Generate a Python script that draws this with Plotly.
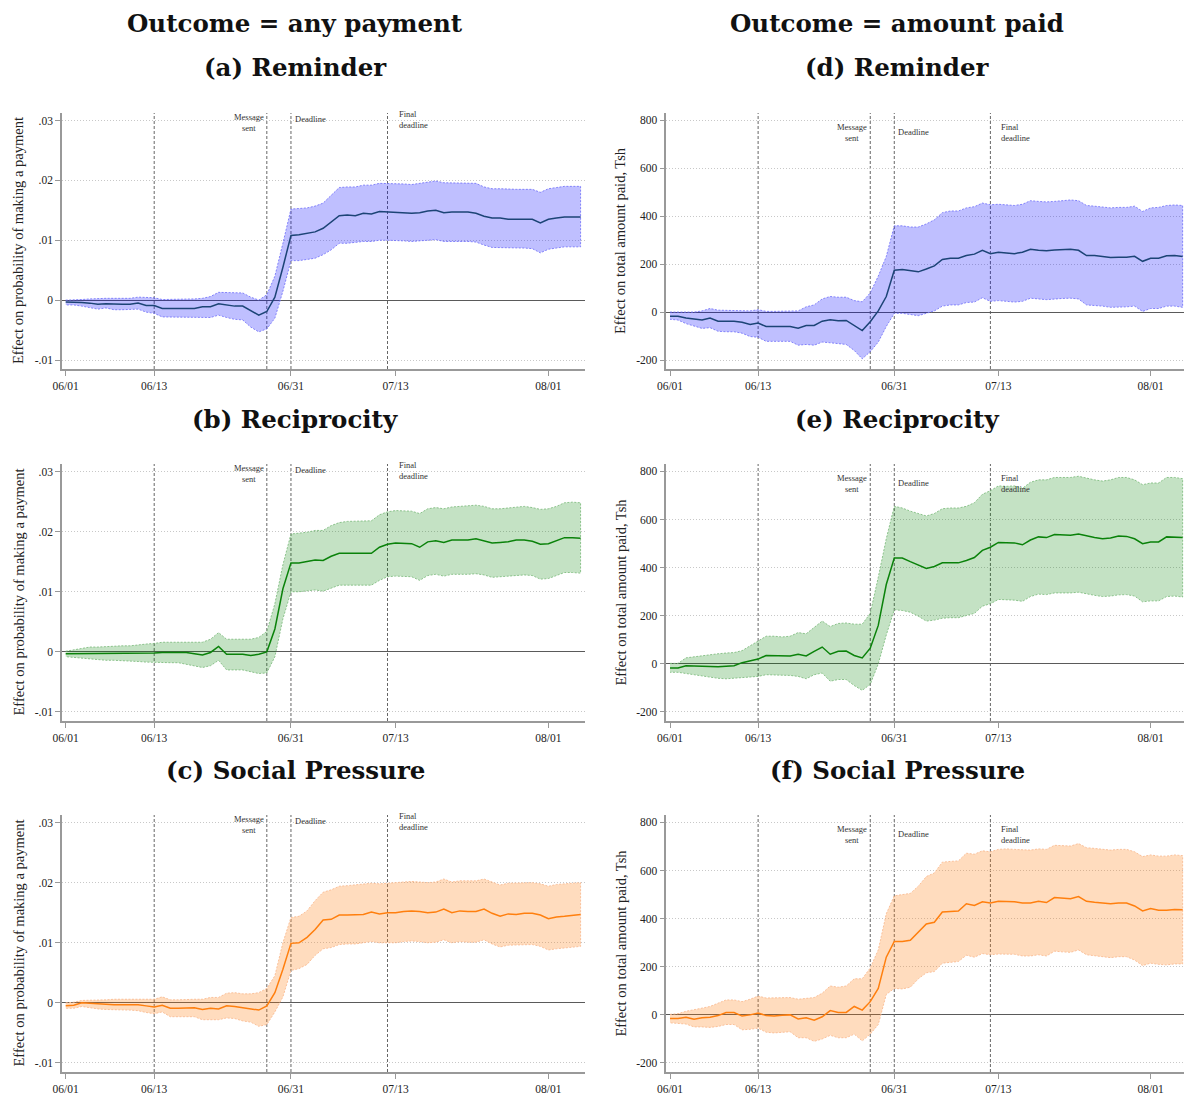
import plotly.graph_objects as go

# ---------------- data ----------------
days = list(range(65))
xtick_vals = [0, 11, 28, 41, 60]
xtick_text = ["06/01", "06/13", "06/31", "07/13", "08/01"]
vline_days = [11, 25, 28, 40]

ytick_prob = [-0.01, 0, 0.01, 0.02, 0.03]
ytick_prob_text = ["-.01", "0", ".01", ".02", ".03"]
ytick_amt = [-200, 0, 200, 400, 600, 800]
ytick_amt_text = ["-200", "0", "200", "400", "600", "800"]

col_titles = ["Outcome = any payment", "Outcome = amount paid"]
panel_titles = ["(a) Reminder", "(b) Reciprocity", "(c) Social Pressure",
                "(d) Reminder", "(e) Reciprocity", "(f) Social Pressure"]
ytitle_prob = "Effect on probability of making a payment"
ytitle_amt = "Effect on total amount paid, Tsh"

# (a) any payment, Reminder
A_mean = [-0.0003,-0.0003,-0.0004,-0.0005,-0.0007,-0.0006,-0.0007,-0.0007,-0.0007,-0.0005,
          -0.0009,-0.0009,-0.0014,-0.0014,-0.0014,-0.0013,-0.0014,-0.0011,-0.0011,-0.0006,
          -0.0008,-0.0010,-0.0010,-0.0018,-0.0025,-0.0019,0.0005,0.0055,0.0108,0.0109,
          0.0111,0.0114,0.0120,0.0130,0.0141,0.0142,0.0141,0.0145,0.0144,0.0148,
          0.0147,0.0147,0.0146,0.0145,0.0146,0.0149,0.0150,0.0146,0.0147,0.0147,
          0.0147,0.0145,0.0140,0.0137,0.0137,0.0135,0.0135,0.0135,0.0135,0.0129,
          0.0135,0.0137,0.0139,0.0139,0.0139]
A_hi = [0.0000,0.0000,0.0001,0.0002,0.0003,0.0003,0.0003,0.0003,0.0003,0.0005,
        0.0004,0.0004,0.0001,0.0001,0.0001,0.0001,0.0002,0.0003,0.0006,0.0013,
        0.0013,0.0012,0.0012,0.0005,0.0000,0.0009,0.0040,0.0095,0.0152,0.0153,
        0.0154,0.0157,0.0162,0.0175,0.0188,0.0189,0.0189,0.0192,0.0192,0.0195,
        0.0195,0.0194,0.0194,0.0193,0.0195,0.0197,0.0199,0.0196,0.0196,0.0196,
        0.0196,0.0195,0.0189,0.0186,0.0186,0.0185,0.0185,0.0185,0.0185,0.0180,
        0.0186,0.0188,0.0190,0.0190,0.0190]
A_lo = [-0.0008,-0.0008,-0.0010,-0.0012,-0.0015,-0.0013,-0.0016,-0.0016,-0.0016,-0.0015,
        -0.0020,-0.0022,-0.0028,-0.0028,-0.0028,-0.0028,-0.0029,-0.0029,-0.0029,-0.0025,
        -0.0029,-0.0032,-0.0033,-0.0045,-0.0053,-0.0048,-0.0030,0.0015,0.0066,0.0066,
        0.0068,0.0070,0.0076,0.0084,0.0095,0.0095,0.0096,0.0098,0.0098,0.0100,
        0.0100,0.0100,0.0099,0.0098,0.0098,0.0100,0.0101,0.0098,0.0098,0.0098,
        0.0098,0.0097,0.0092,0.0088,0.0088,0.0087,0.0087,0.0087,0.0086,0.0079,
        0.0085,0.0087,0.0089,0.0089,0.0089]

# (b) any payment, Reciprocity
B_mean = [-0.0003,-0.0003,-0.0003,-0.0003,-0.0003,-0.0003,-0.0003,-0.0003,-0.0003,-0.0002,
          -0.0002,-0.0002,-0.0001,-0.0001,-0.0001,-0.0001,-0.0003,-0.0005,-0.0001,0.0009,
          -0.0004,-0.0004,-0.0004,-0.0006,-0.0004,0.0000,0.0038,0.0105,0.0148,0.0148,
          0.0150,0.0153,0.0152,0.0159,0.0164,0.0164,0.0164,0.0164,0.0164,0.0174,
          0.0179,0.0181,0.0181,0.0180,0.0174,0.0183,0.0185,0.0182,0.0186,0.0186,
          0.0186,0.0188,0.0185,0.0181,0.0182,0.0183,0.0186,0.0186,0.0184,0.0179,
          0.0180,0.0185,0.0190,0.0190,0.0189]
B_hi = [0.0001,0.0003,0.0005,0.0008,0.0008,0.0009,0.0009,0.0010,0.0010,0.0012,
        0.0013,0.0014,0.0016,0.0016,0.0016,0.0016,0.0016,0.0016,0.0021,0.0032,
        0.0021,0.0021,0.0021,0.0021,0.0024,0.0034,0.0080,0.0145,0.0196,0.0197,
        0.0199,0.0202,0.0202,0.0210,0.0215,0.0217,0.0217,0.0217,0.0218,0.0228,
        0.0233,0.0235,0.0235,0.0234,0.0230,0.0238,0.0240,0.0238,0.0241,0.0242,
        0.0242,0.0244,0.0242,0.0238,0.0238,0.0239,0.0241,0.0242,0.0240,0.0237,
        0.0238,0.0242,0.0248,0.0249,0.0248]
B_lo = [-0.0008,-0.0009,-0.0010,-0.0012,-0.0013,-0.0014,-0.0014,-0.0015,-0.0015,-0.0016,
        -0.0017,-0.0017,-0.0018,-0.0018,-0.0018,-0.0020,-0.0023,-0.0026,-0.0023,-0.0014,
        -0.0030,-0.0030,-0.0030,-0.0033,-0.0036,-0.0035,-0.0008,0.0055,0.0100,0.0100,
        0.0101,0.0103,0.0101,0.0106,0.0111,0.0111,0.0111,0.0111,0.0111,0.0119,
        0.0125,0.0126,0.0126,0.0125,0.0119,0.0127,0.0129,0.0126,0.0129,0.0129,
        0.0129,0.0130,0.0128,0.0124,0.0125,0.0125,0.0127,0.0128,0.0127,0.0121,
        0.0122,0.0127,0.0132,0.0132,0.0131]

# (c) any payment, Social Pressure
C_mean = [-0.0005,-0.0004,0.0000,-0.0001,-0.0002,-0.0002,-0.0003,-0.0003,-0.0003,-0.0003,
          -0.0005,-0.0007,-0.0004,-0.0009,-0.0009,-0.0008,-0.0008,-0.0011,-0.0009,-0.0010,
          -0.0005,-0.0006,-0.0008,-0.0009,-0.0012,-0.0005,0.0017,0.0056,0.0099,0.0100,
          0.0109,0.0122,0.0138,0.0139,0.0146,0.0146,0.0146,0.0147,0.0151,0.0148,
          0.0150,0.0150,0.0152,0.0153,0.0152,0.0150,0.0151,0.0156,0.0150,0.0153,
          0.0152,0.0152,0.0156,0.0149,0.0144,0.0148,0.0147,0.0149,0.0149,0.0146,
          0.0140,0.0143,0.0144,0.0145,0.0147]
C_hi = [0.0000,0.0001,0.0004,0.0004,0.0005,0.0005,0.0006,0.0006,0.0006,0.0006,
        0.0005,0.0006,0.0010,0.0005,0.0005,0.0006,0.0006,0.0006,0.0009,0.0009,
        0.0016,0.0017,0.0015,0.0015,0.0017,0.0024,0.0045,0.0100,0.0142,0.0144,
        0.0153,0.0170,0.0184,0.0188,0.0194,0.0195,0.0196,0.0197,0.0199,0.0198,
        0.0199,0.0200,0.0202,0.0202,0.0201,0.0200,0.0201,0.0206,0.0201,0.0203,
        0.0203,0.0203,0.0206,0.0201,0.0196,0.0199,0.0199,0.0200,0.0200,0.0198,
        0.0194,0.0197,0.0198,0.0199,0.0200]
C_lo = [-0.0009,-0.0009,-0.0006,-0.0008,-0.0010,-0.0011,-0.0012,-0.0012,-0.0012,-0.0013,
        -0.0016,-0.0018,-0.0015,-0.0023,-0.0024,-0.0023,-0.0023,-0.0028,-0.0028,-0.0028,
        -0.0025,-0.0026,-0.0030,-0.0032,-0.0039,-0.0036,-0.0015,0.0010,0.0054,0.0057,
        0.0064,0.0079,0.0090,0.0092,0.0097,0.0098,0.0098,0.0100,0.0102,0.0100,
        0.0100,0.0100,0.0102,0.0103,0.0102,0.0100,0.0101,0.0105,0.0100,0.0102,
        0.0101,0.0101,0.0105,0.0098,0.0093,0.0096,0.0096,0.0097,0.0097,0.0094,
        0.0088,0.0090,0.0091,0.0093,0.0094]

# (d) amount paid, Reminder
D_mean = [-17,-17,-25,-30,-33,-25,-38,-38,-38,-42,
          -52,-46,-60,-60,-60,-60,-67,-56,-56,-38,
          -32,-36,-35,-55,-77,-40,5,65,175,178,
          173,168,180,193,220,225,225,236,242,258,
          244,250,247,244,250,262,258,256,259,260,
          262,258,236,236,233,228,229,229,233,212,
          225,225,235,236,232]
D_hi = [0,0,0,0,5,15,8,7,7,7,
        5,10,3,3,3,3,5,22,30,55,
        65,62,62,48,43,80,150,232,360,360,
        355,355,368,385,415,422,422,435,440,455,
        448,450,448,445,450,465,462,460,462,465,
        468,465,445,442,440,435,437,437,442,420,
        435,437,445,447,445]
D_lo = [-30,-33,-48,-58,-68,-65,-80,-82,-82,-88,
        -102,-105,-122,-122,-122,-122,-138,-135,-138,-125,
        -128,-133,-135,-160,-195,-165,-125,-60,-5,-5,
        -10,-15,-5,5,25,30,30,40,42,60,
        45,48,45,42,45,58,55,52,55,57,
        58,55,30,28,25,20,22,22,25,3,
        15,15,25,25,20]

# (e) amount paid, Reciprocity
E_mean = [-17,-17,-8,-10,-10,-11,-12,-10,-8,5,
          13,20,35,35,33,33,40,33,52,70,
          40,52,53,35,25,65,160,330,440,440,
          425,410,397,405,420,420,420,430,442,472,
          485,505,503,503,495,515,528,525,538,536,
          535,540,532,525,520,523,532,530,520,500,
          507,507,528,528,525]
E_hi = [2,2,25,30,35,40,42,45,47,55,
        75,95,115,115,112,115,130,125,150,178,
        155,168,170,165,165,210,360,520,655,648,
        635,625,615,625,645,648,648,655,670,705,
        720,740,738,740,730,755,765,765,775,775,
        775,780,772,765,760,765,775,775,765,745,
        752,752,775,775,770]
E_lo = [-35,-35,-40,-48,-52,-55,-60,-62,-62,-58,
        -55,-52,-45,-45,-48,-48,-52,-62,-45,-38,
        -72,-65,-65,-90,-110,-85,0,120,225,222,
        215,198,178,182,190,192,192,200,210,240,
        250,268,268,265,260,280,290,288,295,295,
        295,298,290,285,280,282,287,288,282,258,
        262,262,280,282,278]

# (f) amount paid, Social Pressure
F_mean = [-15,-15,-10,-18,-12,-10,-3,10,10,-5,
          0,8,-3,-5,-2,0,-17,-12,-22,-8,
          18,10,10,35,20,55,110,240,305,305,
          310,345,378,385,428,430,432,462,455,470,
          465,472,472,470,465,465,472,467,488,485,
          483,492,472,468,465,462,465,465,453,432,
          442,435,435,438,437]
F_hi = [2,5,15,20,28,35,48,62,62,55,
        65,78,70,70,72,72,65,70,72,90,
        120,115,120,150,150,195,270,420,495,500,
        505,535,575,590,635,638,640,672,668,682,
        678,688,690,688,685,685,690,688,705,702,
        702,712,695,692,688,685,688,688,678,658,
        665,660,660,665,662]
F_lo = [-33,-35,-38,-50,-50,-52,-48,-40,-40,-62,
        -60,-55,-72,-75,-72,-70,-95,-95,-110,-100,
        -85,-95,-95,-80,-108,-80,-40,85,110,108,
        115,150,175,180,215,218,222,248,240,255,
        250,253,253,252,245,245,250,245,265,262,
        260,270,250,245,242,238,242,242,228,205,
        215,210,208,212,212]

# ---------------- styling ----------------
OFF = 8                      # page body margin of the html page
W, H = 1192 - OFF, 1102 - 2 * OFF
SERIF = "Liberation Serif, Times New Roman, serif"
TITLE_FONT = "DejaVu Serif, serif"

styles = {
    "blue": dict(line="rgb(28,68,118)", fill="rgba(0,0,255,0.25)", edge="rgba(120,120,250,0.9)"),
    "green": dict(line="rgb(10,130,10)", fill="rgba(0,128,0,0.23)", edge="rgba(130,190,130,0.9)"),
    "orange": dict(line="rgb(255,127,14)", fill="rgba(255,127,14,0.27)", edge="rgba(250,190,150,0.95)"),
}

def px_x(p):
    return min(max((p - OFF) / W, 0.0), 1.0)

def px_y(p):
    return min(max(1 - (p - OFF) / H, 0.0), 1.0)

left_dom = [px_x(62), px_x(584.6)]
right_dom = [px_x(666.4), px_x(1186)]
row_px = [(113, 369), (464, 721), (815, 1072)]
row_dom = [[px_y(b), px_y(t)] for (t, b) in row_px]

panels = [
    dict(mean=A_mean, lo=A_lo, hi=A_hi, style="blue", col=0, row=0, kind="prob"),
    dict(mean=D_mean, lo=D_lo, hi=D_hi, style="blue", col=1, row=0, kind="amt"),
    dict(mean=B_mean, lo=B_lo, hi=B_hi, style="green", col=0, row=1, kind="prob"),
    dict(mean=E_mean, lo=E_lo, hi=E_hi, style="green", col=1, row=1, kind="amt"),
    dict(mean=C_mean, lo=C_lo, hi=C_hi, style="orange", col=0, row=2, kind="prob"),
    dict(mean=F_mean, lo=F_lo, hi=F_hi, style="orange", col=1, row=2, kind="amt"),
]

fig = go.Figure()
layout = dict(width=W, height=H, margin=dict(l=0, r=0, t=0, b=0, pad=0, autoexpand=False),
              paper_bgcolor="white", plot_bgcolor="white", showlegend=False,
              font=dict(family=SERIF, color="#222"))
shapes = []
annotations = []

for i, p in enumerate(panels, start=1):
    xs = "x" if i == 1 else f"x{i}"
    ys = "y" if i == 1 else f"y{i}"
    st = styles[p["style"]]
    # confidence band as a closed polygon (outline dotted, like the original)
    fig.add_trace(go.Scatter(x=days + days[::-1], y=p["hi"] + p["lo"][::-1],
                             mode="lines", xaxis=xs, yaxis=ys,
                             fill="toself", fillcolor=st["fill"],
                             line=dict(color=st["edge"], width=1, dash="2px,1.5px"),
                             hoverinfo="skip"))
    fig.add_trace(go.Scatter(x=days, y=p["mean"], mode="lines", xaxis=xs, yaxis=ys,
                             line=dict(color=st["line"], width=1.5)))

    if p["kind"] == "prob":
        yr = [-0.0115, 0.03125]
        tv, tt = ytick_prob, ytick_prob_text
        xr = [-0.46, 64.5]
        lab_y = [0.0297, 0.0302, 0.0302]
    else:
        yr = [-237.5, 831]
        tv, tt = ytick_amt, ytick_amt_text
        xr = [-0.45, 64.42]
        lab_y = [750, 750, 750]

    xa = "xaxis" if i == 1 else f"xaxis{i}"
    ya = "yaxis" if i == 1 else f"yaxis{i}"
    layout[xa] = dict(domain=left_dom if p["col"] == 0 else right_dom, anchor=ys,
                      range=xr, showgrid=False, zeroline=False, automargin=False,
                      showline=True, linecolor="#999999", linewidth=1.5,
                      ticks="outside", ticklen=5, tickcolor="#999999", tickwidth=1,
                      tickvals=xtick_vals, ticktext=xtick_text,
                      tickfont=dict(family=SERIF, size=11.5, color="#222"))
    layout[ya] = dict(domain=row_dom[p["row"]], anchor=xs, range=yr, automargin=False,
                      showgrid=True, gridcolor="#c8c8c8", griddash="1px,2px", gridwidth=1,
                      zeroline=True, zerolinecolor="#5a5a5a", zerolinewidth=1,
                      showline=True, linecolor="#999999", linewidth=1.5,
                      ticks="outside", ticklen=5, tickcolor="#999999", tickwidth=1,
                      tickvals=tv, ticktext=tt,
                      tickfont=dict(family=SERIF, size=11.5, color="#222"))

    for d in vline_days:
        shapes.append(dict(type="line", xref=xs, yref=f"{ys} domain",
                           x0=d, x1=d, y0=0, y1=1, layer="below",
                           line=dict(color="#666666", width=1, dash="3px,2px")))

    ann_font = dict(family=SERIF, size=8.5, color="#333")
    annotations.append(dict(x=vline_days[1], y=lab_y[0], xref=xs, yref=ys,
                            text="Message<br>sent", showarrow=False, xanchor="right",
                            yanchor="middle", align="center", xshift=-1, font=ann_font))
    annotations.append(dict(x=vline_days[2], y=lab_y[1], xref=xs, yref=ys,
                            text="Deadline", showarrow=False, xanchor="left",
                            yanchor="middle", align="left", xshift=2, font=ann_font))
    annotations.append(dict(x=vline_days[3], y=lab_y[2], xref=xs, yref=ys,
                            text="Final<br>deadline", showarrow=False, xanchor="left",
                            yanchor="middle", align="left", xshift=9, font=ann_font))

# column titles & panel titles
col_centers = [px_x(295), px_x(897)]
title_font = dict(family=TITLE_FONT, size=24.5, color="#111")
for c, t in enumerate(col_titles):
    annotations.append(dict(x=col_centers[c], y=1.0, xref="paper", yref="paper",
                            text=f"<b>{t}</b>", showarrow=False, xanchor="center",
                            yanchor="top", borderpad=0, font=title_font))
title_rows = [68, 420, 770]
for k, t in enumerate(panel_titles):
    c = k // 3
    r = k % 3
    annotations.append(dict(x=col_centers[c], y=px_y(title_rows[r]), xref="paper", yref="paper",
                            text=f"<b>{t}</b>", showarrow=False, xanchor="center",
                            yanchor="middle", font=title_font))

# y-axis titles
for r in range(3):
    t, b = row_px[r]
    yc = px_y((t + b) / 2)
    annotations.append(dict(x=px_x(18), y=yc, xref="paper", yref="paper",
                            text=ytitle_prob, showarrow=False, textangle=-90,
                            xanchor="center", yanchor="middle",
                            font=dict(family=SERIF, size=14.5, color="#222")))
    annotations.append(dict(x=px_x(620), y=yc, xref="paper", yref="paper",
                            text=ytitle_amt, showarrow=False, textangle=-90,
                            xanchor="center", yanchor="middle",
                            font=dict(family=SERIF, size=14.5, color="#222")))

layout["shapes"] = shapes
layout["annotations"] = annotations
fig.update_layout(**layout)
fig.write_html("out.html")
